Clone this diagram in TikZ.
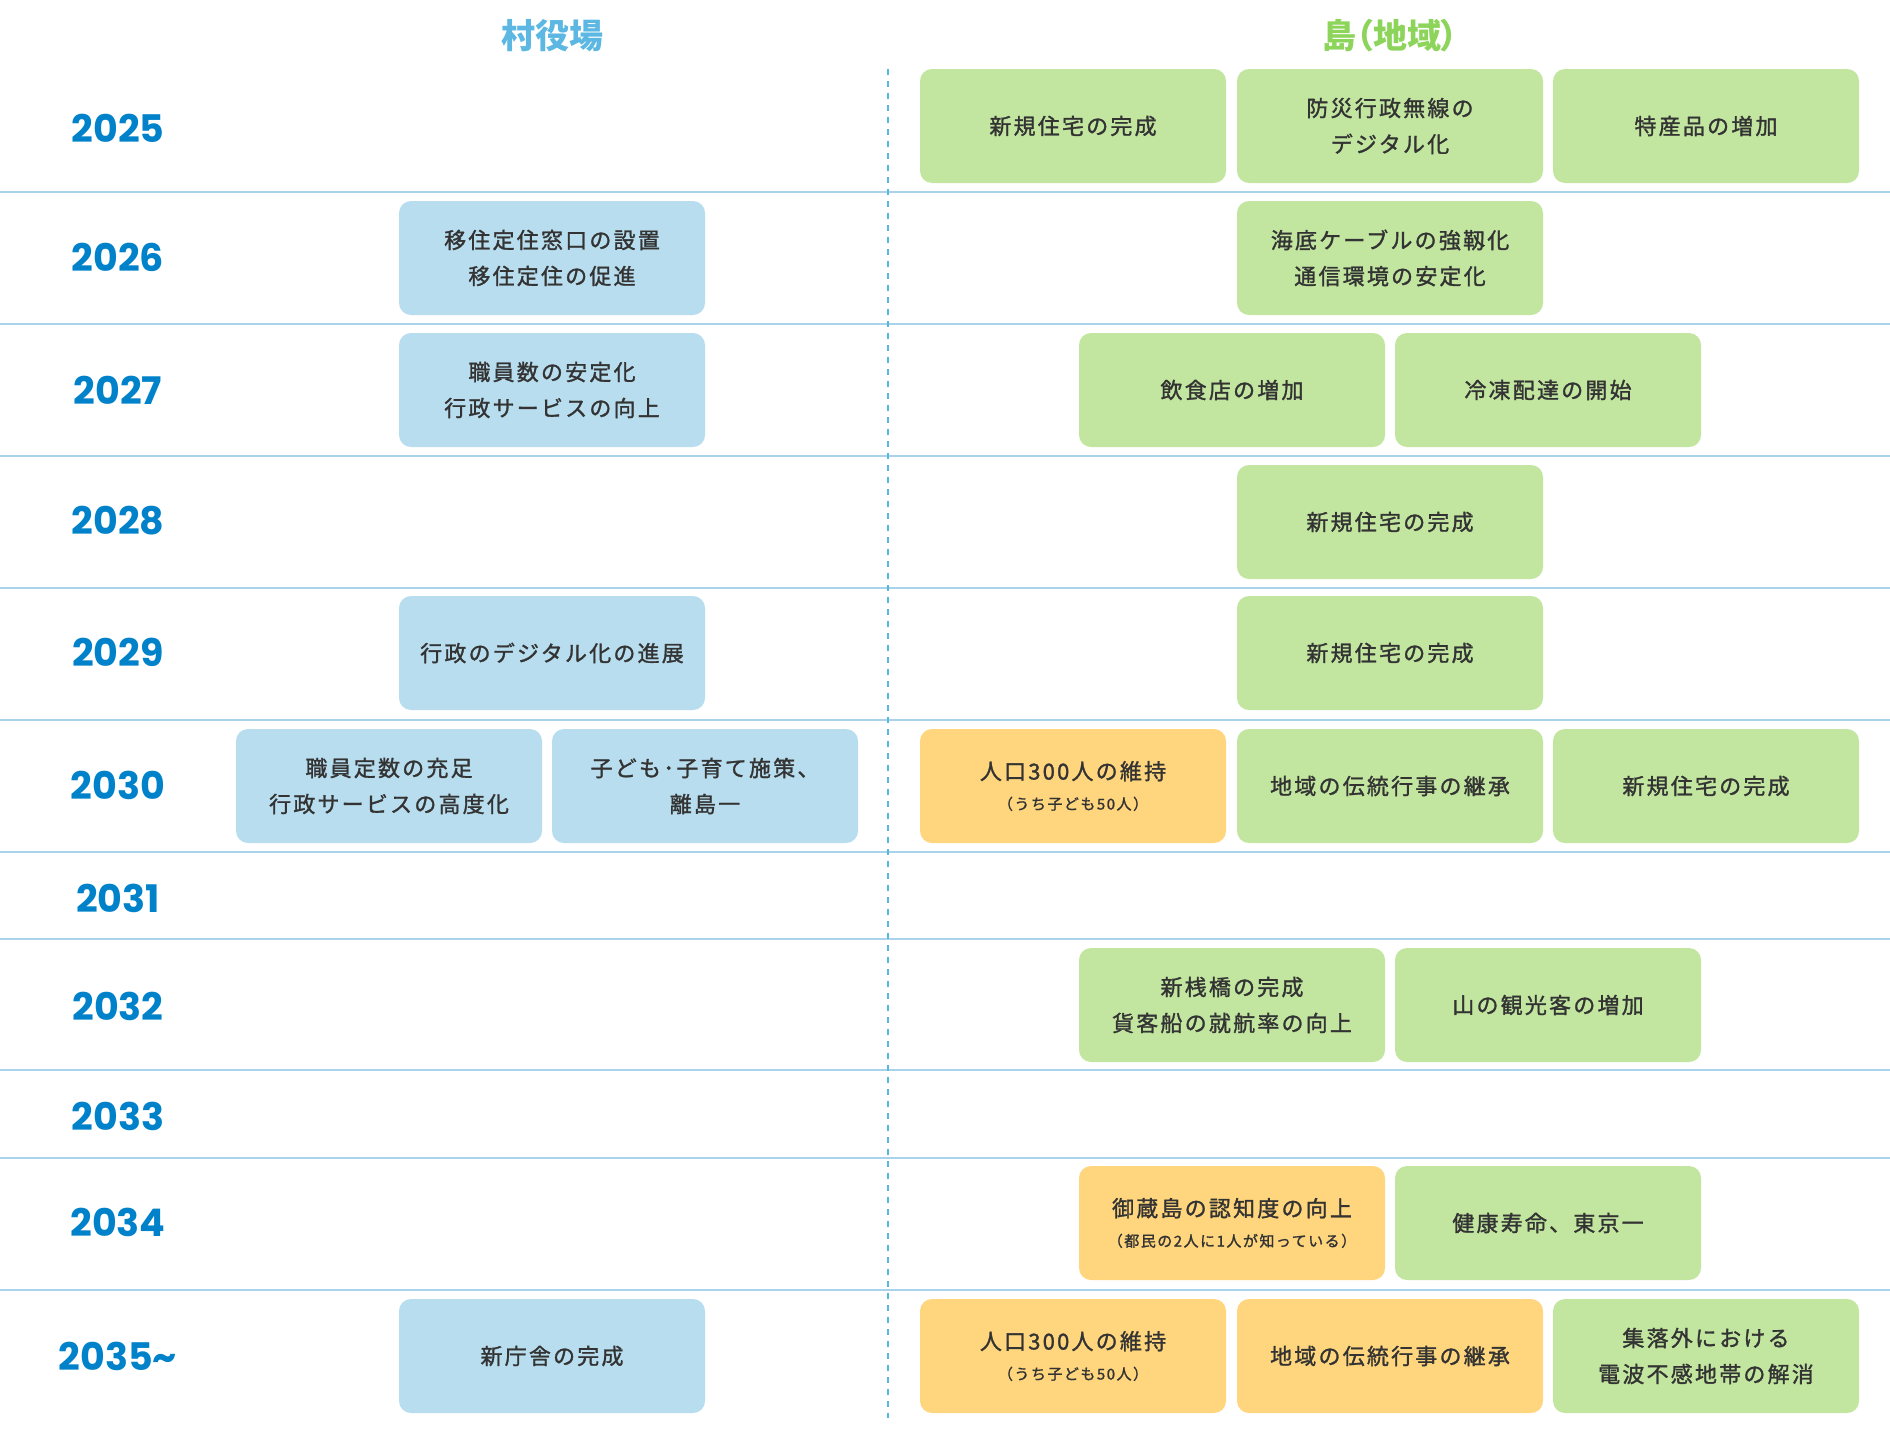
\documentclass[tikz,border=0pt]{standalone}
\usepackage{fontspec}
\usepackage{xcolor}
\setmainfont{Noto Sans CJK JP}
\newfontfamily\boxfont{Noto Sans CJK JP}[LetterSpace=10,FakeBold=1.3]
\newfontfamily\headfont{Noto Sans CJK JP}[RawFeature=+palt]
\newfontfamily\yearfont{Poppins}
\definecolor{YearBlue}{RGB}{0,130,202}
\definecolor{HeadBlue}{RGB}{92,184,226}
\definecolor{HeadGreen}{RGB}{140,212,90}
\definecolor{TownBlue}{RGB}{184,221,238}
\definecolor{IsleGreen}{RGB}{194,230,160}
\definecolor{GoalOrange}{RGB}{255,214,125}
\definecolor{RuleBlue}{RGB}{168,211,235}
\definecolor{MidBlue}{RGB}{88,182,226}
\definecolor{InkGray}{RGB}{51,51,51}
\tikzset{
  planbox/.style={rounded corners=12pt, minimum width=306pt, minimum height=114pt,
    inner sep=0pt, align=center, text=InkGray, font=\boxfont\fontsize{22}{36}\selectfont},
  town/.style={planbox, fill=TownBlue},
  isle/.style={planbox, fill=IsleGreen},
  goal/.style={planbox, fill=GoalOrange},
  yearlbl/.style={text=YearBlue, font=\yearfont\bfseries\fontsize{38}{38}\selectfont},
  headlbl/.style={font=\headfont\bfseries\fontsize{34}{34}\selectfont},
  rowrule/.style={RuleBlue, line width=2pt},
  midrule/.style={MidBlue, line width=1.3pt, dash pattern=on 6pt off 6pt},
}
\newcommand{\subnote}[1]{\\[-6pt]{\fontsize{15}{20}\selectfont #1}}
\begin{document}
\begin{tikzpicture}[x=1pt,y=-1pt]
  \useasboundingbox (0,0) rectangle (1890,1438);
  \fill[white] (0,0) rectangle (1890,1438);
  % column heads
  \node[headlbl, text=HeadBlue] (headTown) at (552,36) {村役場};
  \node[headlbl, text=HeadGreen] (headIsle) at (1390,36) {島（地域）};
  % row rules and centre line
  \foreach \y in {192,324,456,588,720,852,939,1070,1158,1290}
    \draw[rowrule] (0,\y) -- (1890,\y);
  \coordinate (midTop) at (888,69);
  \coordinate (midBot) at (888,1418);
  \draw[midrule] (midTop) -- (midBot);
  % years
  \foreach \yr/\y [count=\i] in {
    2025/128,
    2026/257,
    2027/390,
    2028/521,
    2029/652,
    2030/785,
    2031/898,
    2032/1006,
    2033/1116,
    2034/1222,
    2035\textasciitilde/1356} {
    \node[yearlbl] (year\i) at (118,\y) {\yr};
  }
  % village office
  \node[town] (town26) at (552,258) {移住定住窓口の設置\\移住定住の促進};
  \node[town] (town27) at (552,390) {職員数の安定化\\行政サービスの向上};
  \node[town] (town29) at (552,653) {行政のデジタル化の進展};
  \node[town] (town30a) at (389,786) {職員定数の充足\\行政サービスの高度化};
  \node[town] (town30b) at (705,786) {子ども･子育て施策、\\離島一};
  \node[town] (town35) at (552,1356) {新庁舎の完成};
  % island
  \node[isle] (isle25a) at (1073,126) {新規住宅の完成};
  \node[isle] (isle25b) at (1390,126) {防災行政無線の\\デジタル化};
  \node[isle] (isle25c) at (1706,126) {特産品の増加};
  \node[isle] (isle26) at (1390,258) {海底ケーブルの強靱化\\通信環境の安定化};
  \node[isle] (isle27a) at (1232,390) {飲食店の増加};
  \node[isle] (isle27b) at (1548,390) {冷凍配達の開始};
  \node[isle] (isle28) at (1390,522) {新規住宅の完成};
  \node[isle] (isle29) at (1390,653) {新規住宅の完成};
  \node[goal] (isle30a) at (1073,786) {人口300人の維持\subnote{（うち子ども50人）}};
  \node[isle] (isle30b) at (1390,786) {地域の伝統行事の継承};
  \node[isle] (isle30c) at (1706,786) {新規住宅の完成};
  \node[isle] (isle32a) at (1232,1005) {新桟橋の完成\\貨客船の就航率の向上};
  \node[isle] (isle32b) at (1548,1005) {山の観光客の増加};
  \node[goal] (isle34a) at (1232,1223) {御蔵島の認知度の向上\subnote{（都民の2人に1人が知っている）}};
  \node[isle] (isle34b) at (1548,1223) {健康寿命、東京一};
  \node[goal] (isle35a) at (1073,1356) {人口300人の維持\subnote{（うち子ども50人）}};
  \node[goal] (isle35b) at (1390,1356) {地域の伝統行事の継承};
  \node[isle] (isle35c) at (1706,1356) {集落外における\\電波不感地帯の解消};
\end{tikzpicture}
\end{document}
